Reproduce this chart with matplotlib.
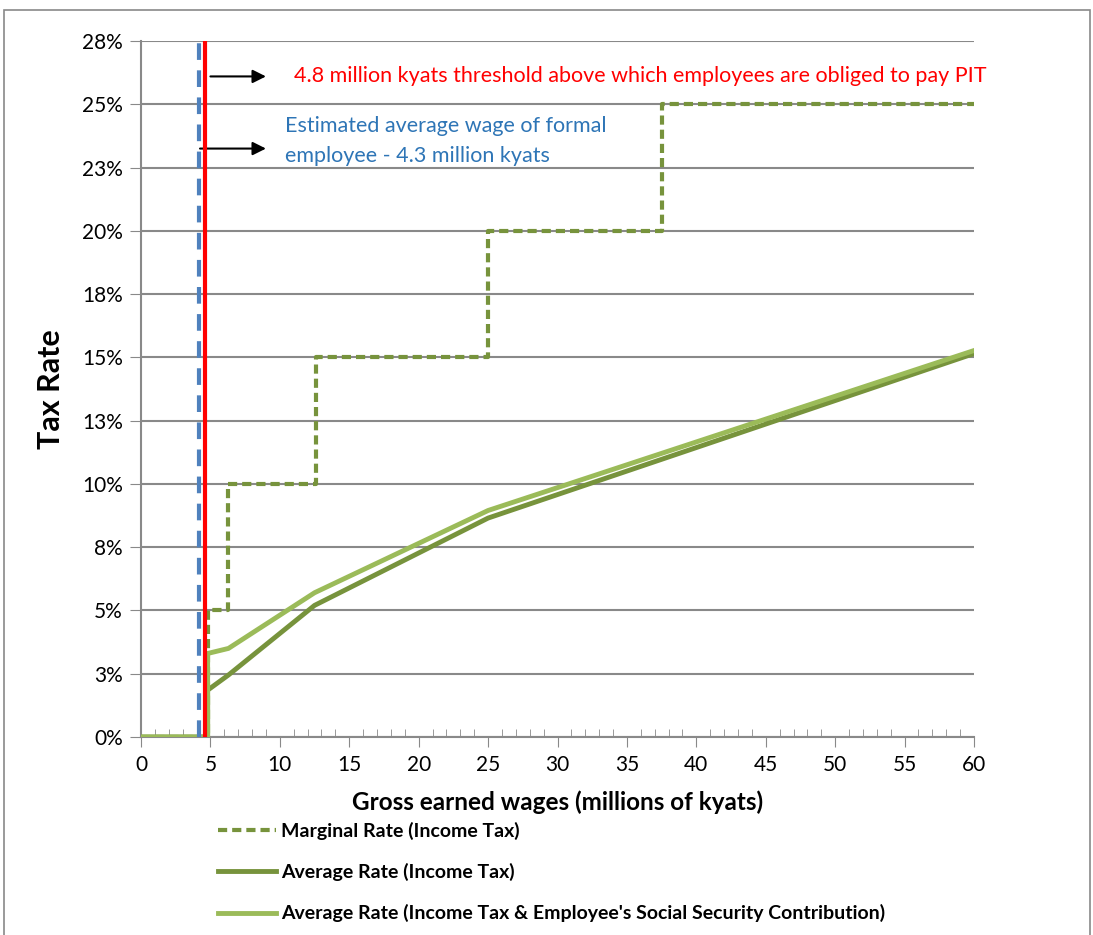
import numpy as np
import matplotlib.pyplot as plt
from matplotlib.patches import Rectangle

plt.rcParams['font.family'] = ['Lato', 'DejaVu Sans']

# wages in millions of kyats, rates in %
marginal_x = [0, 4.8, 4.8, 6.3, 6.3, 12.6, 12.6, 25.0, 25.0, 37.5, 37.5, 60]
marginal_y = [0, 0, 5, 5, 10, 10, 15, 15, 20, 20, 25, 25]

avg_x = [0, 4.8, 4.8, 6.3, 12.5, 25.0, 60]
avg_income = [0, 0, 1.85, 2.45, 5.2, 8.65, 15.15]
avg_with_ss = [0, 0, 3.3, 3.5, 5.7, 8.95, 15.27]

threshold = 4.6      # where the red line sits in the picture
avg_wage = 4.15      # where the blue dashed line sits in the picture

dark_green = '#77933C'
light_green = '#9BBB59'
grid_grey = '#898989'

fig = plt.figure(figsize=(10.93, 9.35), dpi=100)
ax = fig.add_axes([141/1093, 1 - 737/935, (974 - 141)/1093, (737 - 41)/935])

ax.plot(marginal_x, marginal_y, color=dark_green, lw=3, ls=(0, (2.2, 1.2)),
        label='Marginal Rate (Income Tax)', zorder=3)
ax.plot(avg_x, avg_income, color=dark_green, lw=3.5,
        label='Average Rate (Income Tax)', zorder=3)
ax.plot(avg_x, avg_with_ss, color=light_green, lw=3.5,
        label="Average Rate (Income Tax & Employee's Social Security Contribution)", zorder=3)

ax.axvline(avg_wage, color='#4F81BD', lw=3, ls=(0, (4, 2.5)), zorder=4)
ax.axvline(threshold, color='#FF0000', lw=3, zorder=5)

ax.set_xlim(0, 60)
ax.set_ylim(0, 27.5)
yt = np.arange(0, 27.6, 2.5)
ax.set_yticks(yt)
ax.set_yticklabels(['%d%%' % int(np.floor(v + 0.5)) for v in yt], fontsize=15)
ax.set_xticks(np.arange(0, 61, 5))
ax.set_xticks(np.arange(0, 61, 1), minor=True)
ax.tick_params(axis='x', which='major', direction='out', length=7, color=grid_grey,
               labelsize=15, pad=6)
ax.tick_params(axis='x', which='minor', direction='in', length=6, color=grid_grey)
ax.tick_params(axis='y', direction='out', length=8, color=grid_grey, pad=5)
ax.yaxis.grid(True, color=grid_grey, lw=1.5)
ax.set_axisbelow(True)
for s in ['top', 'right']:
    ax.spines[s].set_visible(False)
for s in ['left', 'bottom']:
    ax.spines[s].set_color(grid_grey)
    ax.spines[s].set_linewidth(1.5)

ax.set_ylabel('Tax Rate', fontsize=22, fontweight='bold', labelpad=12)
ax.set_xlabel('Gross earned wages (millions of kyats)', fontsize=17.5, fontweight='bold', labelpad=11)

# annotations
ax.annotate('', xy=(9.2, 26.1), xytext=(threshold + 0.2, 26.1),
            arrowprops=dict(arrowstyle='-|>', color='black', lw=1.5, mutation_scale=20))
ax.text(11.0, 26.1, '4.8 million kyats threshold above which employees are obliged to pay PIT',
        color='#FF0000', fontsize=15.5, va='center')
ax.annotate('', xy=(9.2, 23.25), xytext=(avg_wage - 0.1, 23.25),
            arrowprops=dict(arrowstyle='-|>', color='black', lw=1.5, mutation_scale=20))
ax.text(10.4, 23.55, 'Estimated average wage of formal\nemployee - 4.3 million kyats',
        color='#2E75B6', fontsize=15.5, va='center', linespacing=1.6)

handles, labels = ax.get_legend_handles_labels()
fig.legend(handles, labels, loc='upper left', bbox_to_anchor=(200/1093, 1 - 804/935),
           frameon=False, prop=dict(weight='bold', size=14), handlelength=3.0,
           handletextpad=0.25, labelspacing=1.2)

fig.patches.append(Rectangle((4/1093, -0.01), 1086/1093, 1 - 10/935 + 0.01,
                             transform=fig.transFigure, fill=False,
                             edgecolor=grid_grey, lw=1.2))

fig.savefig('out.png', dpi=100)
